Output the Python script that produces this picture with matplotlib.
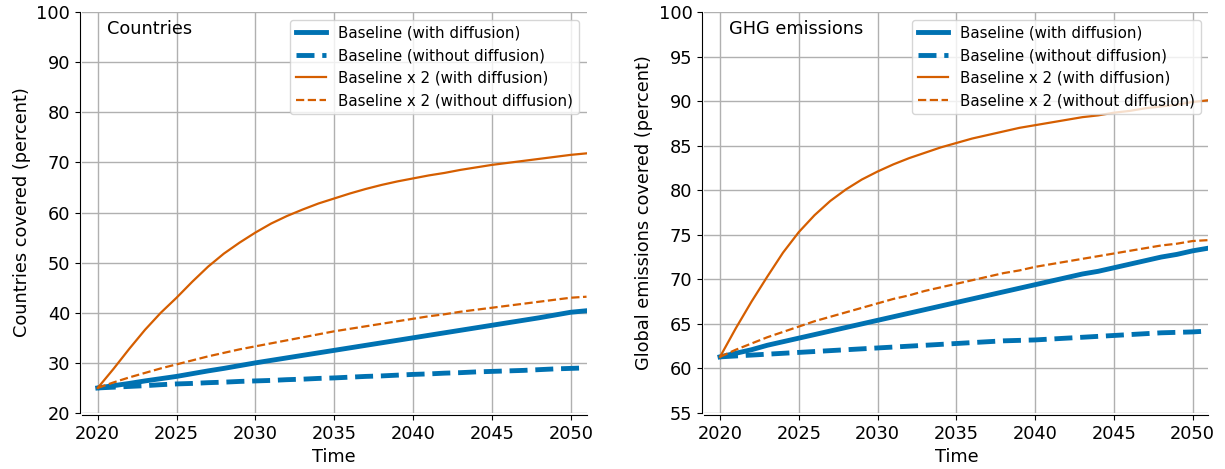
import numpy as np
import matplotlib
matplotlib.use("Agg")
import matplotlib.pyplot as plt

# years on the x axis
years = [2020, 2021, 2022, 2023, 2024, 2025, 2026, 2027, 2028, 2029, 2030,
         2031, 2032, 2033, 2034, 2035, 2036, 2037, 2038, 2039, 2040,
         2041, 2042, 2043, 2044, 2045, 2046, 2047, 2048, 2049, 2050, 2051]

# --- Countries covered (percent) ---
cty_base_diff = [25.0, 25.45, 25.9, 26.4, 26.85, 27.3, 27.85, 28.4, 28.9, 29.45, 30.0,
                 30.5, 31.0, 31.5, 32.0, 32.5, 33.0, 33.5, 34.0, 34.5, 35.0,
                 35.5, 36.0, 36.5, 37.0, 37.5, 38.0, 38.5, 39.0, 39.55, 40.1, 40.4]
cty_base_nodiff = [25.0, 25.15, 25.3, 25.45, 25.65, 25.8, 25.9, 26.05, 26.15, 26.3, 26.4,
                   26.5, 26.65, 26.75, 26.9, 27.0, 27.15, 27.3, 27.4, 27.55, 27.7,
                   27.8, 27.95, 28.05, 28.2, 28.3, 28.4, 28.5, 28.65, 28.8, 28.9, 29.0]
cty_x2_diff = [25.0, 28.8, 32.8, 36.6, 40.0, 43.0, 46.2, 49.2, 51.8, 54.0, 56.0,
               57.8, 59.3, 60.6, 61.8, 62.8, 63.8, 64.7, 65.5, 66.2, 66.8,
               67.4, 67.9, 68.5, 69.0, 69.5, 69.9, 70.3, 70.7, 71.1, 71.5, 71.8]
cty_x2_nodiff = [25.0, 26.1, 27.1, 28.0, 28.9, 29.7, 30.5, 31.3, 32.0, 32.7, 33.3,
                 33.9, 34.5, 35.1, 35.7, 36.3, 36.8, 37.3, 37.8, 38.3, 38.8,
                 39.3, 39.7, 40.2, 40.6, 41.0, 41.4, 41.8, 42.2, 42.6, 43.0, 43.2]

# --- Global emissions covered (percent) ---
ghg_base_diff = [61.3, 61.7, 62.1, 62.6, 63.0, 63.4, 63.8, 64.2, 64.6, 65.0, 65.4,
                 65.8, 66.2, 66.6, 67.0, 67.4, 67.8, 68.2, 68.6, 69.0, 69.4,
                 69.8, 70.2, 70.6, 70.9, 71.3, 71.7, 72.1, 72.5, 72.8, 73.2, 73.5]
ghg_base_nodiff = [61.3, 61.4, 61.5, 61.6, 61.7, 61.8, 61.9, 62.0, 62.1, 62.2, 62.3,
                   62.4, 62.5, 62.6, 62.7, 62.8, 62.9, 63.0, 63.1, 63.15, 63.2,
                   63.3, 63.4, 63.5, 63.6, 63.7, 63.8, 63.9, 64.0, 64.05, 64.1, 64.2]
ghg_x2_diff = [61.3, 64.5, 67.5, 70.3, 73.0, 75.3, 77.2, 78.8, 80.1, 81.2, 82.1,
               82.9, 83.6, 84.2, 84.8, 85.3, 85.8, 86.2, 86.6, 87.0, 87.3,
               87.6, 87.9, 88.2, 88.4, 88.7, 88.9, 89.2, 89.4, 89.6, 89.9, 90.1]
ghg_x2_nodiff = [61.3, 62.1, 62.8, 63.5, 64.1, 64.7, 65.3, 65.8, 66.3, 66.8, 67.3,
                 67.8, 68.2, 68.7, 69.1, 69.5, 69.9, 70.3, 70.7, 71.0, 71.4,
                 71.7, 72.0, 72.3, 72.6, 72.9, 73.2, 73.5, 73.8, 74.0, 74.3, 74.4]

labels = ["Baseline (with diffusion)", "Baseline (without diffusion)",
          "Baseline x 2 (with diffusion)", "Baseline x 2 (without diffusion)"]

blue = "#0072B2"
orange = "#D55E00"

fig = plt.figure(figsize=(12.25, 4.69), dpi=100)
ax1 = fig.add_axes([0.0669, 0.1194, 0.4119, 0.855])
ax2 = fig.add_axes([0.5749, 0.1194, 0.4116, 0.855])

panels = [
    (ax1, "Countries", "Countries covered (percent)",
     [cty_base_diff, cty_base_nodiff, cty_x2_diff, cty_x2_nodiff], (20, 100), 10),
    (ax2, "GHG emissions", "Global emissions covered (percent)",
     [ghg_base_diff, ghg_base_nodiff, ghg_x2_diff, ghg_x2_nodiff], (55, 100), 5),
]

for ax, title, ylab, series, ylim, ystep in panels:
    ax.plot(years, series[0], color=blue, lw=3.5, ls="-", label=labels[0])
    ax.plot(years, series[1], color=blue, lw=3.5, ls="--", label=labels[1])
    ax.plot(years, series[2], color=orange, lw=1.6, ls="-", label=labels[2])
    ax.plot(years, series[3], color=orange, lw=1.6, ls="--", label=labels[3])
    ax.set_xlim(2019, 2051)
    ax.set_ylim(*ylim)
    ax.set_xticks(range(2020, 2051, 5))
    ax.set_yticks(np.arange(ylim[0], ylim[1] + 1, ystep))
    ax.grid(True, color="#b0b0b0", lw=1)
    ax.set_axisbelow(True)
    for s in ["top", "right"]:
        ax.spines[s].set_visible(False)
    for s in ["left", "bottom"]:
        ax.spines[s].set_position(("outward", 1.5))
    ax.tick_params(labelsize=12.8)
    ax.set_xlabel("Time", fontsize=12.8)
    ax.set_ylabel(ylab, fontsize=12.8)
    ax.text(0.05, 0.98, title, transform=ax.transAxes, va="top", ha="left", fontsize=12.8)
    ax.legend(loc="upper right", fontsize=10.8)

fig.savefig("out.png", dpi=100)
